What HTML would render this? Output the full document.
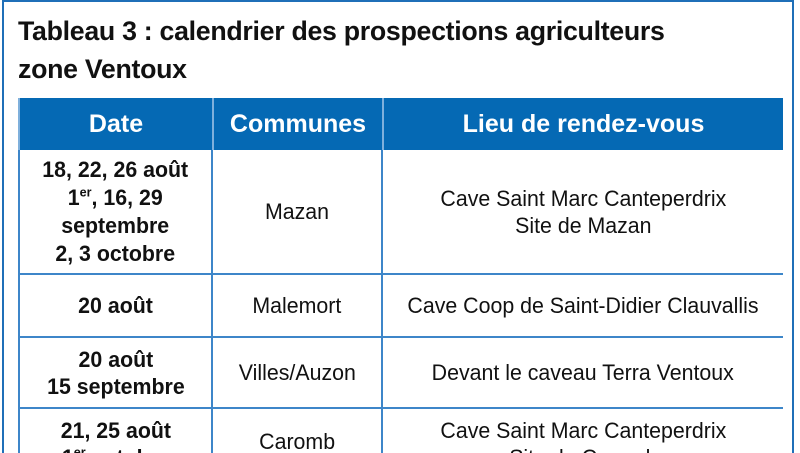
<!DOCTYPE html>
<html style="overflow:hidden"><head><meta charset="utf-8"><style>
html,body{margin:0;width:800px;height:453px;overflow:hidden}
body{background:#fff;font-family:"Liberation Sans",sans-serif;position:relative}
.frame{position:absolute;left:2px;top:0;width:792px;height:460px;border:2px solid #1f6fb8;border-bottom:none;box-sizing:border-box}
.title{position:absolute;left:18px;top:12px;font-weight:bold;font-size:27px;line-height:38px;color:#111;transform:scaleX(0.99);transform-origin:left top;white-space:nowrap;letter-spacing:-0.3px}
.hdr{position:absolute;top:98px;height:52px;background:#0569b4;color:#fff;font-weight:bold;font-size:25px;display:flex;align-items:center;justify-content:center;border-left:2px solid #7fb0dc;box-sizing:border-box}
.c{position:absolute;display:flex;align-items:center;justify-content:center;text-align:center;font-size:22px;line-height:27px;color:#111;box-sizing:border-box;overflow:visible}
.c span{display:inline-block;white-space:nowrap;transform:scaleX(0.97)}
.b{font-weight:bold}
.hl{position:absolute;left:18px;width:765px;height:2px;background:#3d86c9}
.vl{position:absolute;width:2px;top:150px;height:303px;background:#3d86c9}
sup{font-size:13px;line-height:0}
</style></head><body>
<div class="frame"></div>
<div class="title">Tableau 3 : calendrier des prospections agriculteurs<br>zone Ventoux</div>
<div class="hdr" style="left:18px;width:194px"><span>Date</span></div>
<div class="hdr" style="left:212px;width:170px"><span>Communes</span></div>
<div class="hdr" style="left:382px;width:401px"><span>Lieu de rendez-vous</span></div>
<div class="vl" style="left:18px"></div><div class="vl" style="left:211px"></div><div class="vl" style="left:381px"></div>
<div class="hl" style="top:273px"></div><div class="hl" style="top:336px"></div><div class="hl" style="top:407px"></div>

<div class="c b" style="left:20px;width:191px;top:150px;height:123px;line-height:28px"><span>18, 22, 26 août<br>1<sup>er</sup>, 16, 29<br>septembre<br>2, 3 octobre</span></div>
<div class="c" style="left:213px;width:168px;top:150px;height:123px"><span>Mazan</span></div>
<div class="c" style="left:383px;width:400px;top:150px;height:123px"><span>Cave Saint Marc Canteperdrix<br>Site de Mazan</span></div>

<div class="c b" style="left:20px;width:191px;top:275px;height:61px"><span>20 août</span></div>
<div class="c" style="left:213px;width:168px;top:275px;height:61px"><span>Malemort</span></div>
<div class="c" style="left:383px;width:400px;top:275px;height:61px"><span>Cave Coop de Saint-Didier Clauvallis</span></div>

<div class="c b" style="left:20px;width:191px;top:338px;height:69px"><span>20 août<br>15 septembre</span></div>
<div class="c" style="left:213px;width:168px;top:338px;height:69px"><span>Villes/Auzon</span></div>
<div class="c" style="left:383px;width:400px;top:338px;height:69px"><span>Devant le caveau Terra Ventoux</span></div>

<div class="c b" style="left:20px;width:191px;top:417px;height:30px;align-items:flex-start"><span>21, 25 août<br>1<sup>er</sup> octobre</span></div>
<div class="c" style="left:213px;width:168px;top:428px;height:25px;align-items:flex-start"><span>Caromb</span></div>
<div class="c" style="left:383px;width:400px;top:417px;height:30px;align-items:flex-start"><span>Cave Saint Marc Canteperdrix<br>Site de Caromb</span></div>
</body></html>
